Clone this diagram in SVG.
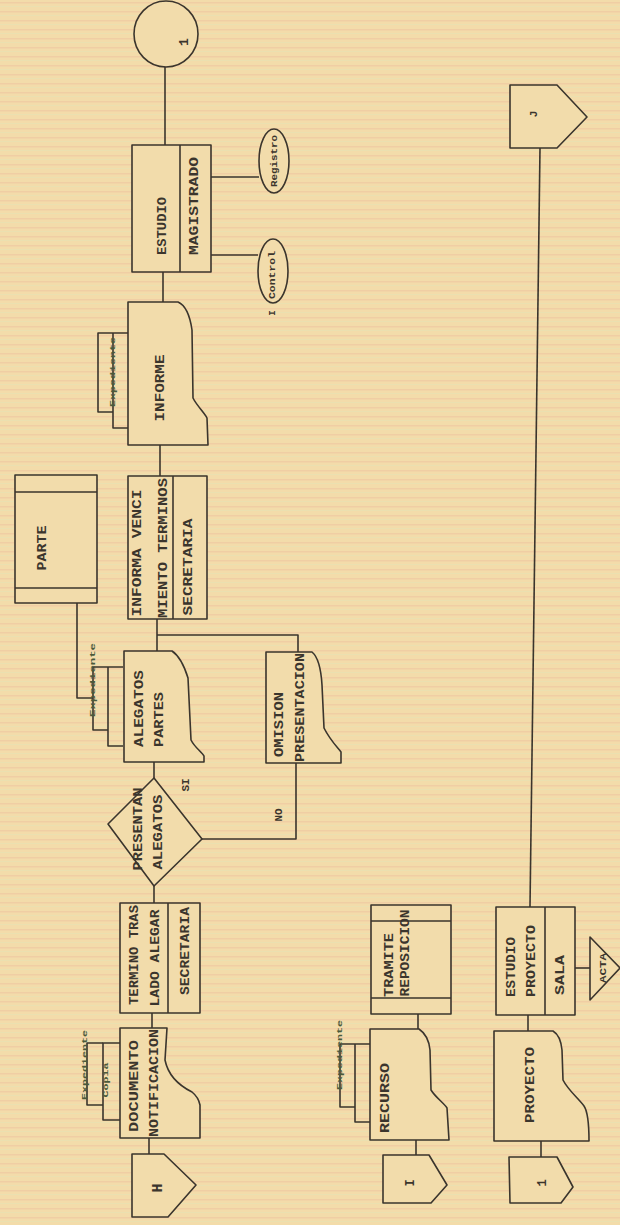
<svg xmlns="http://www.w3.org/2000/svg" width="620" height="1225" viewBox="0 0 620 1225">
<defs>
<pattern id="scan" width="620" height="9" patternUnits="userSpaceOnUse">
<rect width="620" height="9" fill="#f3dcaa"/>
<rect y="2" width="620" height="1.5" fill="#eec4a0" opacity="0.6"/>
<rect y="6" width="620" height="1" fill="#e6e2b4" opacity="0.6"/>
</pattern>
</defs>
<style>
.s{fill:none;stroke:#3b352d;stroke-width:1.6;stroke-linejoin:round}
.b{fill:#f2dcab;stroke:#3b352d;stroke-width:1.6;stroke-linejoin:round}
.t{font-family:"Liberation Mono","DejaVu Sans Mono",monospace;font-weight:bold;font-size:13px;fill:#3b352d;dominant-baseline:central;text-anchor:middle}
.st{text-anchor:start}
.sm{font-size:9px}
.xs{font-size:7px;fill:#4a5a3a}
</style>
<rect width="620" height="1225" fill="url(#scan)"/>
<g id="connectors" class="s">
<path d="M165,66 V145"/>
<path d="M211,177 H259"/>
<path d="M211,255 H258"/>
<path d="M163,272 V302"/>
<path d="M160,445 V476"/>
<path d="M77,603 V698 H93"/>
<path d="M157,619 V651"/>
<path d="M157,635 H298 V652"/>
<path d="M154,762 V778"/>
<path d="M202,839 H296 V763"/>
<path d="M154,886 V903"/>
<path d="M152,1013 V1028"/>
<path d="M149,1138 V1154"/>
<path d="M418,1014 V1029"/>
<path d="M416,1140 V1155"/>
<path d="M540,148 L530,907"/>
<path d="M575,968 H590"/>
<path d="M528,1015 V1031"/>
<path d="M541,1141 V1157"/>
</g>
<g id="c1">
<ellipse class="b" cx="166" cy="34" rx="32" ry="33"/>
<text class="t" transform="translate(184,42) rotate(-90)">1</text>
</g>
<g id="estudio-magistrado">
<rect class="b" x="132" y="145" width="79" height="127"/>
<path class="s" d="M180,145 V272"/>
<text class="t" transform="translate(162,226) rotate(-90)" textLength="58" lengthAdjust="spacingAndGlyphs">ESTUDIO</text>
<text class="t" transform="translate(194,206) rotate(-90)" textLength="98" lengthAdjust="spacingAndGlyphs">MAGISTRADO</text>
</g>
<g id="registro">
<ellipse class="b" cx="274" cy="161" rx="15" ry="32"/>
<text class="t sm" transform="translate(275,161) rotate(-90)" textLength="52" lengthAdjust="spacingAndGlyphs">Registro</text>
</g>
<g id="control">
<ellipse class="b" cx="273" cy="271" rx="15" ry="32"/>
<text class="t sm" transform="translate(273,275) rotate(-90)" textLength="48" lengthAdjust="spacingAndGlyphs">Control</text>
<text class="t sm" transform="translate(273,313) rotate(-90)">I</text>
</g>
<g id="j">
<path class="b" d="M510,85 H557 L587,117 L557,148 H510 Z"/>
<text class="t" transform="translate(534,114) rotate(-90)" style="font-size:11px">J</text>
</g>
<g id="informe">
<path class="s" d="M130,333 H98 V412 H113"/>
<path class="s" d="M113,333 V428 H130"/>
<text class="t xs" transform="translate(113,372) rotate(-90)" textLength="70" lengthAdjust="spacingAndGlyphs">Expediente</text>
<path class="b" d="M128,302 H178 C185,305 190,316 192,330 L193,398 C197,406 204,412 207,418 L208,445 H128 Z"/>
<text class="t" transform="translate(160,388) rotate(-90)" textLength="67" lengthAdjust="spacingAndGlyphs">INFORME</text>
</g>
<g id="parte">
<rect class="b" x="15" y="475" width="82" height="128"/>
<path class="s" d="M15,492 H97 M15,588 H97"/>
<text class="t" transform="translate(42,548) rotate(-90)" textLength="45" lengthAdjust="spacingAndGlyphs">PARTE</text>
</g>
<g id="informa-vencimiento">
<rect class="b" x="128" y="476" width="79" height="143"/>
<path class="s" d="M173,476 V619"/>
<text class="t" transform="translate(137,553) rotate(-90)" textLength="127" lengthAdjust="spacingAndGlyphs">INFORMA VENCI</text>
<text class="t" transform="translate(163,548) rotate(-90)" textLength="140" lengthAdjust="spacingAndGlyphs">MIENTO TERMINOS</text>
<text class="t" transform="translate(188,567) rotate(-90)" textLength="97" lengthAdjust="spacingAndGlyphs">SECRETARIA</text>
</g>
<g id="alegatos-partes">
<path class="s" d="M123,667 H93 V730 H108"/>
<path class="s" d="M108,667 V746 H123"/>
<text class="t xs" transform="translate(93,680) rotate(-90)" textLength="74" lengthAdjust="spacingAndGlyphs">Expediente</text>
<path class="b" d="M124,651 H172 C178,655 184,665 188,678 L191,740 C195,748 202,752 204,756 V762 H124 Z"/>
<text class="t st" transform="translate(139,747) rotate(-90)" textLength="77" lengthAdjust="spacingAndGlyphs">ALEGATOS</text>
<text class="t st" transform="translate(159,747) rotate(-90)" textLength="55" lengthAdjust="spacingAndGlyphs">PARTES</text>
</g>
<g id="omision">
<path class="b" d="M266,652 H312 C318,657 321,668 322,685 L324,728 C330,740 338,748 341,752 V763 H266 Z"/>
<text class="t st" transform="translate(279,757) rotate(-90)" textLength="65" lengthAdjust="spacingAndGlyphs">OMISION</text>
<text class="t st" transform="translate(300,762) rotate(-90)" textLength="109" lengthAdjust="spacingAndGlyphs">PRESENTACION</text>
</g>
<g id="presentan">
<path class="b" d="M154,778 L202,839 L154,886 L108,824 Z"/>
<text class="t" transform="translate(138,829) rotate(-90)" textLength="83" lengthAdjust="spacingAndGlyphs">PRESENTAN</text>
<text class="t" transform="translate(158,832) rotate(-90)" textLength="75" lengthAdjust="spacingAndGlyphs">ALEGATOS</text>
<text class="t" transform="translate(186,785) rotate(-90)" style="font-size:11px">SI</text>
<text class="t" transform="translate(279,815) rotate(-90)" style="font-size:11px">NO</text>
</g>
<g id="termino-traslado">
<rect class="b" x="120" y="903" width="80" height="110"/>
<path class="s" d="M168,903 V1013"/>
<text class="t" transform="translate(134,955) rotate(-90)" textLength="100" lengthAdjust="spacingAndGlyphs">TERMINO TRAS</text>
<text class="t" transform="translate(155,958) rotate(-90)" textLength="97" lengthAdjust="spacingAndGlyphs">LADO ALEGAR</text>
<text class="t" transform="translate(185,951) rotate(-90)" textLength="88" lengthAdjust="spacingAndGlyphs">SECRETARIA</text>
</g>
<g id="documento">
<path class="s" d="M103,1043 H87 V1105 H103"/>
<path class="s" d="M120,1043 H103 V1120 H120"/>
<text class="t xs" transform="translate(85,1065) rotate(-90)" textLength="70" lengthAdjust="spacingAndGlyphs">Expediente</text>
<text class="t xs" transform="translate(106,1080) rotate(-90)" textLength="35" lengthAdjust="spacingAndGlyphs">Copia</text>
<path class="b" d="M120,1028 H167 L165,1060 C168,1075 178,1085 192,1092 C197,1096 199,1100 200,1105 V1138 H120 Z"/>
<text class="t" transform="translate(134,1086) rotate(-90)" textLength="92" lengthAdjust="spacingAndGlyphs">DOCUMENTO</text>
<text class="t" transform="translate(154,1083) rotate(-90)" textLength="108" lengthAdjust="spacingAndGlyphs">NOTIFICACION</text>
</g>
<g id="h">
<path class="b" d="M132,1154 H164 L196,1185 L168,1217 H132 Z"/>
<text class="t" transform="translate(158,1188) rotate(-90)" style="font-size:15px">H</text>
</g>
<g id="tramite">
<rect class="b" x="371" y="905" width="80" height="109"/>
<path class="s" d="M371,921 H451 M371,998 H451"/>
<text class="t" transform="translate(389,965) rotate(-90)" textLength="64" lengthAdjust="spacingAndGlyphs">TRAMITE</text>
<text class="t" transform="translate(405,953) rotate(-90)" textLength="87" lengthAdjust="spacingAndGlyphs">REPOSICION</text>
</g>
<g id="recurso">
<path class="s" d="M370,1044 H340 V1107 H355"/>
<path class="s" d="M355,1044 V1122 H370"/>
<text class="t xs" transform="translate(340,1055) rotate(-90)" textLength="70" lengthAdjust="spacingAndGlyphs">Expediente</text>
<path class="b" d="M370,1029 H419 C425,1033 429,1040 430,1050 L431,1090 C436,1098 444,1103 447,1108 L449,1140 H370 Z"/>
<text class="t" transform="translate(385,1098) rotate(-90)" textLength="70" lengthAdjust="spacingAndGlyphs">RECURSO</text>
</g>
<g id="i">
<path class="b" d="M383,1155 H429 L447,1185 L431,1203 H383 Z"/>
<text class="t" transform="translate(411,1183) rotate(-90)" style="font-size:12px">I</text>
</g>
<g id="estudio-sala">
<rect class="b" x="496" y="907" width="79" height="108"/>
<path class="s" d="M545,907 V1015"/>
<text class="t st" transform="translate(511,997) rotate(-90)" textLength="60" lengthAdjust="spacingAndGlyphs">ESTUDIO</text>
<text class="t st" transform="translate(531,997) rotate(-90)" textLength="72" lengthAdjust="spacingAndGlyphs">PROYECTO</text>
<text class="t st" transform="translate(560,995) rotate(-90)" textLength="40" lengthAdjust="spacingAndGlyphs">SALA</text>
</g>
<g id="acta">
<path class="b" d="M590,937 V1000 L620,968 Z"/>
<text class="t sm" transform="translate(604,968) rotate(-90)" textLength="30" lengthAdjust="spacingAndGlyphs">ACTA</text>
</g>
<g id="proyecto">
<path class="b" d="M494,1031 H553 C558,1034 561,1040 562,1050 L563,1080 C568,1090 578,1098 584,1106 C588,1112 589,1125 589,1141 H494 Z"/>
<text class="t" transform="translate(530,1085) rotate(-90)" textLength="76" lengthAdjust="spacingAndGlyphs">PROYECTO</text>
</g>
<g id="c1b">
<path class="b" d="M509,1157 H557 L573,1187 L561,1203 H510 Z"/>
<text class="t" transform="translate(543,1183) rotate(-90)" style="font-size:12px">1</text>
</g>
</svg>
